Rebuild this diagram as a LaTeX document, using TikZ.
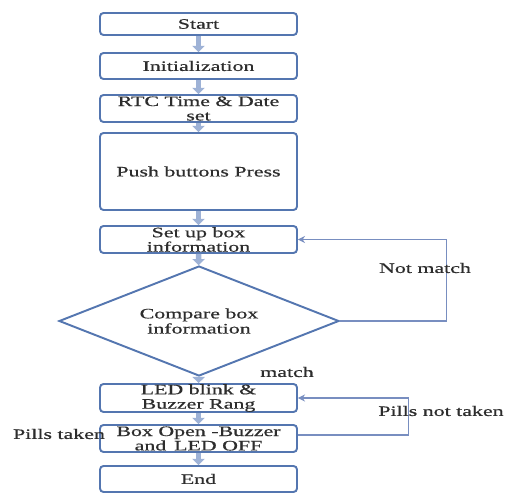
\documentclass[tikz,border=0pt]{standalone}
\usepackage{fontspec}
\setmainfont{Liberation Serif}
\newfontfamily\widefont[FakeStretch=1.52,FakeBold=0.6]{Liberation Serif}
\usetikzlibrary{shapes.geometric,arrows.meta,positioning}

\definecolor{boxblue}{RGB}{84,118,176}
\definecolor{flowblue}{RGB}{158,178,214}
\definecolor{loopblue}{RGB}{120,142,192}
\definecolor{txtgray}{RGB}{45,45,45}

\tikzset{
  procbox/.style={draw=boxblue, line width=1.1pt, rounded corners=2pt,
    minimum width=3.94cm, inner sep=0pt, align=center,
    text=txtgray, font=\widefont\fontsize{8.2}{8.2}\selectfont},
  decision/.style={diamond, draw=boxblue, line width=1.1pt, aspect=2.55,
    minimum width=5.6cm, minimum height=2.2cm, inner sep=0pt, align=center,
    text=txtgray, font=\widefont\fontsize{8.2}{8.6}\selectfont},
  flowarrow/.style={flowblue, line width=3.2pt,
    -{Triangle[width=7pt,length=3.5pt]}},
  loopline/.style={loopblue, line width=0.6pt, -{Stealth[length=4pt,width=4pt]}},
  flowlabel/.style={text=txtgray, font=\widefont\fontsize{8.2}{8.2}\selectfont, inner sep=0pt}
}

\begin{document}
\begin{tikzpicture}[x=0.02cm, y=-0.02cm]
    \useasboundingbox (0,0) rectangle (509,493);

    % Main chain of steps
    \node[procbox, minimum height=0.44cm] (start) at (198.5,24) {Start};
    \node[procbox, minimum height=0.52cm] (init) at (198.5,66) {Initialization};
    \node[procbox, minimum height=0.54cm] (rtc) at (198.5,108.5) {RTC Time \& Date\\set};
    \node[procbox, minimum height=1.54cm] (push) at (198.5,171.5) {Push buttons Press};
    \node[procbox, minimum height=0.54cm] (setup) at (198.5,239.5) {Set up box\\information};
    \node[decision] (compare) at (199,321) {Compare box\\information};
    \node[procbox, minimum height=0.56cm] (led) at (198.5,398) {LED blink \&\\Buzzer Rang};
    \node[procbox, minimum height=0.54cm] (boxopen) at (198.5,438.5) {Box Open -Buzzer\\and\, LED OFF};
    \node[procbox, minimum height=0.52cm] (stop) at (198.5,479) {End};

    % Short block arrows between steps
    \draw[flowarrow] (start) -- (init);
    \draw[flowarrow] (init) -- (rtc);
    \draw[flowarrow] (rtc) -- (push);
    \draw[flowarrow] (push) -- (setup);
    \draw[flowarrow] (setup) -- (compare);
    \draw[flowarrow] (compare) -- (led);
    \draw[flowarrow] (led) -- (boxopen);
    \draw[flowarrow] (boxopen) -- (stop);

    % Feedback loops
    \draw[loopline] (compare.east) -- ++(2.14cm,0) |- (setup.east);
    \draw[loopline] ([yshift=2pt]boxopen.east) -- ++(2.22cm,0) |- (led.east);

    % Labels
    \node[flowlabel] (lblnomatch) at (425,268) {Not match};
    \node[flowlabel] (lblmatch) at (287,372) {match};
    \node[flowlabel] (lblnottaken) at (441,411) {Pills not taken};
    \node[flowlabel] (lbltaken) at (59,434) {Pills taken};
\end{tikzpicture}
\end{document}
